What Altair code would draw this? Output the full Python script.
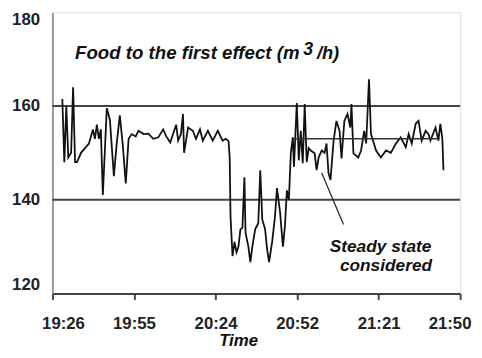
import altair as alt
import pandas as pd

# minutes after 19:26
t_min = [3.5, 4.2, 4.9, 5.6, 6.6, 7.3, 8.0, 8.7, 10.1, 11.5, 12.9, 14.3, 15.0, 15.7, 16.4, 17.1, 17.8,
         19.2, 20.3, 21.7, 22.7, 23.8, 24.8, 25.9, 26.9, 28.0, 29.4, 30.4, 32.2, 33.9, 35.6, 37.4,
         39.1, 40.2, 41.6, 43.7, 44.4, 45.4, 46.1, 46.5, 47.9, 49.6, 50.7, 52.1, 53.1, 54.9, 56.6,
         58.4, 60.1, 61.2, 62.2, 62.6, 62.9, 63.6, 64.3, 65.0, 65.7, 66.4, 67.1, 67.8, 68.2, 69.2,
         69.9, 70.6, 71.6, 72.7, 73.4, 74.1, 75.1, 75.8, 76.5, 77.6, 78.6, 79.3, 80.4, 81.4, 82.1,
         82.8, 83.5, 84.2, 84.9, 85.3, 86.3, 87.0, 87.7, 88.4, 89.1, 89.8, 90.5, 91.2, 92.6, 93.3,
         94.0, 95.1, 96.1, 96.8, 97.5, 98.2, 99.3, 100.3, 101.4, 102.1, 103.1, 104.2, 105.2, 105.6,
         106.3, 108.0, 109.0, 110.1, 110.8, 111.8, 112.5, 114.3, 116.0, 117.8, 119.5, 121.3, 123.0,
         124.8, 125.8, 126.9, 128.3, 129.3, 130.4, 131.8, 132.8, 133.5, 135.3, 136.3, 137.0, 137.7,
         138.1]
flow = [161.5, 148, 160, 149, 150, 164, 148, 148, 150, 151, 152, 155, 153, 156, 153, 155, 141,
        159.5, 157, 145, 152, 158, 152, 143.5, 153, 154, 153.5, 154.7, 154, 154.1, 153, 153.3,
        155, 153.5, 152.2, 156, 152.6, 154, 158.3, 150, 155.4, 154.7, 153, 155, 152.6, 154.7, 152.6,
        154.7, 152.6, 153, 152.5, 149, 136.4, 128, 131, 128.8, 130, 133.7, 134, 144.8, 133, 130,
        126.7, 130, 133.7, 135, 146.3, 135.8, 133.7, 129.5, 126.7, 131, 136.4, 142.5, 137.3, 130, 134.3,
        142, 140, 150, 153.3, 147, 160.6, 148.4, 154.7, 147.8, 160.4, 148, 151, 150.5, 149.9, 146.3,
        149, 150.5, 150, 152, 145.7, 144.2, 152.6, 156.8, 154.7, 148.8, 156.8, 158.3, 155.4, 160.4,
        149.9, 149, 150.5, 154.7, 152, 165.7, 154, 150.5, 149, 150.5, 150, 152, 153.3,
        151.2, 154, 152, 156.2, 156.8, 152.6, 154.7, 154, 152.6, 155.4, 152.6, 156.2, 153,
        146.3]

tick_vals = [0, 28.8, 57.6, 86.4, 115.2, 144]
tick_labels = ["19:26", "19:55", "20:24", "20:52", "21:21", "21:50"]
grid_vals = [140, 160]

steady_t = [84.9, 136.7]
steady_v = [153, 153]

arrow_t = [95.1, 102.8]
arrow_v = [145.7, 134.7]

df = pd.DataFrame({"t": t_min, "v": flow})
xs = alt.Scale(domain=[0, 144], nice=False, zero=False)
ys = alt.Scale(domain=[120, 180], nice=False, zero=False)

label_expr = "[" + ",".join("'%s'" % s for s in tick_labels) + "][round(datum.value/28.8)]"
label_font = "Liberation Sans, Arial, sans-serif"

x_axis = alt.Axis(values=tick_vals, labelExpr=label_expr, grid=False, title="Time",
                  labelFont=label_font, labelFontWeight="bold", labelFontSize=17, labelColor="#222",
                  labelFlush=True, labelFlushOffset=11, labelPadding=16,
                  tickSize=6, tickColor="#444", tickWidth=2,
                  domainColor="#444", domainWidth=2,
                  titleFont="Liberation Sans, Arial, sans-serif", titleFontStyle="italic",
                  titleFontWeight="bold", titleFontSize=17, titleColor="#111",
                  titleX=241 - 53, titleY=53, titleBaseline="alphabetic", titleAnchor="middle")
y_axis = alt.Axis(values=[120, 140, 160, 180], grid=False, title=None,
                  labelFont=label_font, labelFontWeight="bold", labelFontSize=17, labelColor="#222",
                  labelFlush=True, labelPadding=13, ticks=False, tickSize=0,
                  domainColor="#999", domainWidth=2)

base = alt.Chart(df)

line = base.mark_line(color="#111", strokeWidth=1.8, interpolate="linear").encode(
    x=alt.X("t:Q", scale=xs, axis=x_axis),
    y=alt.Y("v:Q", scale=ys, axis=y_axis),
)

grid = alt.Chart(pd.DataFrame({"g": grid_vals})).mark_rule(color="#444", strokeWidth=2).encode(
    y=alt.Y("g:Q", scale=ys)
)

steady = alt.Chart(pd.DataFrame({"t": steady_t, "v": steady_v})).mark_line(
    color="#333", strokeWidth=1.5).encode(x=alt.X("t:Q", scale=xs), y=alt.Y("v:Q", scale=ys))

arrow = alt.Chart(pd.DataFrame({"t": arrow_t, "v": arrow_v})).mark_line(
    color="#222", strokeWidth=1.2).encode(x=alt.X("t:Q", scale=xs), y=alt.Y("v:Q", scale=ys))

font_it = "Liberation Sans, Arial, sans-serif"
def txt(s, t, v, align="left", size=17.5):
    return alt.Chart(pd.DataFrame({"t": [t], "v": [v], "s": [s]})).mark_text(
        font=font_it, fontStyle="italic", fontWeight="bold", fontSize=size, color="#111",
        align=align, baseline="alphabetic").encode(
        x=alt.X("t:Q", scale=xs), y=alt.Y("v:Q", scale=ys), text="s:N")

texts = [
    txt("Food to the first effect (m", 8.0, 170.1, size=18.9),
    txt("3", 88.6, 170.95, size=18),
    txt("/h)", 93.4, 170.1, size=18.5),
    txt("Steady state", 115.9, 128.84, align="center"),
    txt("considered", 117.8, 124.9, align="center"),
]

chart = alt.layer(grid, line, steady, arrow, *texts).properties(
    width=413, height=285,
    autosize=alt.AutoSizeParams(type="none"),
    padding={"left": 45, "top": 2, "right": 14, "bottom": 55},
).configure_view(stroke="#999", strokeWidth=2).configure(background="white")

chart.save("out.html", embed_options={"renderer": "svg", "actions": False})
